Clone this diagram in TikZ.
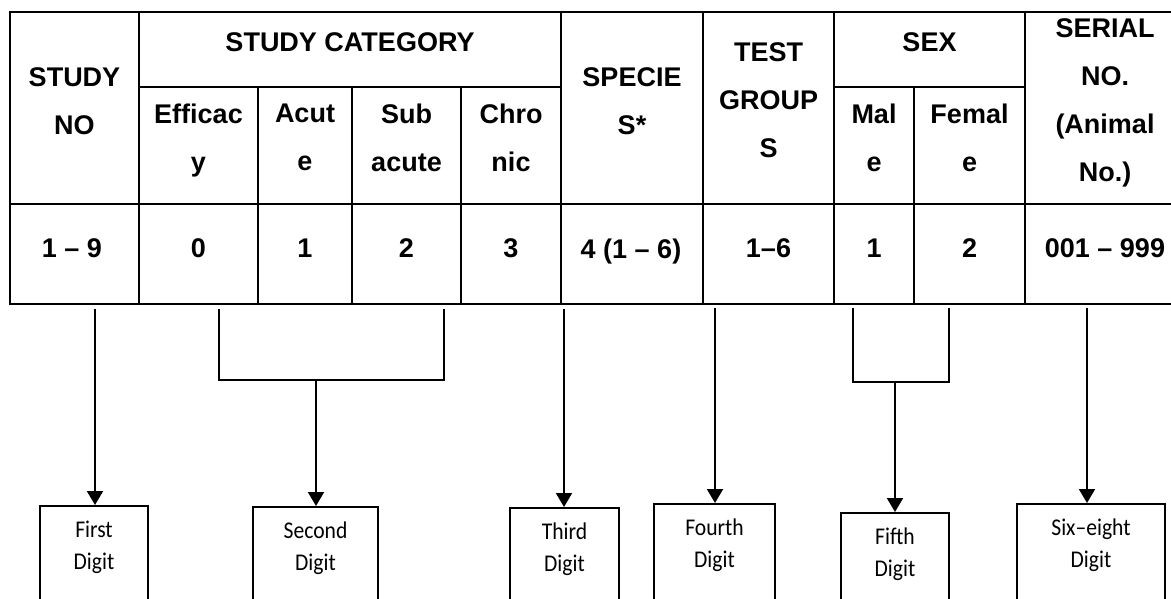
\documentclass[tikz,border=0pt]{standalone}
\usepackage{fontspec}
\setmainfont{Liberation Sans}
\newfontfamily\boxfont{Carlito}[FakeStretch=0.9]
\usetikzlibrary{arrows.meta}
\begin{document}
\begin{tikzpicture}[x=0.75pt,y=-0.75pt,
  hd/.style={font=\fontsize{20.25}{36}\selectfont\bfseries, align=center, inner sep=0pt, anchor=north},
  gridline/.style={line width=1.9pt, line cap=rect},
  conn/.style={line width=1.5pt},
  arr/.style={conn, -{Triangle[width=12pt,length=10.5pt]}},
  digitbox/.style={draw, line width=1.4pt, anchor=north, inner sep=0pt, minimum height=97.5pt},
  digittext/.style={font=\boxfont\fontsize{18}{24}\selectfont, align=center, inner sep=0pt, anchor=north}
]
\useasboundingbox (0,0) rectangle (1171,599);
\fill[white] (0,0) rectangle (1171,599);

% ---------- table grid ----------
\draw[gridline] (10,12) -- (1190,12);
\draw[gridline] (10,204) -- (1190,204);
\draw[gridline] (10,304) -- (1190,304);
\draw[gridline] (10,12) -- (10,304);
\draw[gridline] (139,87) -- (561,87);
\draw[gridline] (834,87) -- (1025,87);
\foreach \x in {139,561,703,834,1025} \draw[gridline] (\x,12) -- (\x,304);
\foreach \x in {258,352,461,914} \draw[gridline] (\x,87) -- (\x,304);

% ---------- header texts ----------
\node[hd] (hstudy) at (74.5,67.3) {STUDY\\NO};
\node[hd] (hcat) at (350,32.3) {STUDY CATEGORY};
\node[hd] (heff) at (198.5,103.3) {Efficac\\y};
\node[hd] (hacu) at (305,103.3) {Acut\\e};
\node[hd] (hsub) at (406.5,103.3) {Sub\\acute};
\node[hd] (hchr) at (511,103.3) {Chro\\nic};
\node[hd] (hspe) at (632,67.3) {SPECIE\\S*};
\node[hd] (htst) at (768.5,42.3) {TEST\\GROUP\\S};
\node[hd] (hsex) at (929.5,32.3) {SEX};
\node[hd] (hmal) at (874,103.3) {Mal\\e};
\node[hd] (hfem) at (969.5,103.3) {Femal\\e};
\node[hd] (hser) at (1105,18.3) {SERIAL\\NO.\\(Animal\\No.)};

% ---------- values ----------
\node[hd] (v1) at (72,238.3) {1 – 9};
\node[hd] (v2) at (198.5,238.3) {0};
\node[hd] (v3) at (305,238.3) {1};
\node[hd] (v4) at (406.5,238.3) {2};
\node[hd] (v5) at (511,238.3) {3};
\node[hd] (v6) at (631,238.3) {4 (1 – 6)};
\node[hd] (v7) at (768.5,238.3) {1–6};
\node[hd] (v8) at (874,238.3) {1};
\node[hd] (v9) at (969.5,238.3) {2};
\node[hd] (v10) at (1105,238.3) {001 – 999};

% ---------- digit boxes ----------
\node[digitbox, minimum width=81pt] (b1) at (94,505) {};
\node[digitbox, minimum width=93.75pt] (b2) at (315.5,506) {};
\node[digitbox, minimum width=81.75pt] (b3) at (564.5,507) {};
\node[digitbox, minimum width=90.75pt] (b4) at (714.5,503) {};
\node[digitbox, minimum width=81pt] (b5) at (895,512) {};
\node[digitbox, minimum width=111pt] (b6) at (1091,503) {};

\node[digittext] (t1) at (94,521) {First\\Digit};
\node[digittext] (t2) at (315.5,522) {Second\\Digit};
\node[digittext] (t3) at (564.5,523) {Third\\Digit};
\node[digittext] (t4) at (714.5,519) {Fourth\\Digit};
\node[digittext] (t5) at (895,528) {Fifth\\Digit};
\node[digittext] (t6) at (1091,519) {Six–eight\\Digit};

% ---------- connectors ----------
\coordinate (s1) at (95,309);
\coordinate (l2) at (219,309);
\coordinate (r2) at (444,309);
\coordinate (j2) at (316,380);
\coordinate (s3) at (564,309);
\coordinate (s4) at (715,308);
\coordinate (l5) at (853,308);
\coordinate (r5) at (949,308);
\coordinate (j5) at (895,382);
\coordinate (s6) at (1087,308);

\draw[arr] (s1) -- (s1 |- b1.north);
\draw[conn] (l2) -- (l2 |- j2) -- (r2 |- j2) -- (r2);
\draw[arr] (j2) -- (j2 |- b2.north);
\draw[arr] (s3) -- (s3 |- b3.north);
\draw[arr] (s4) -- (s4 |- b4.north);
\draw[conn] (l5) -- (l5 |- j5) -- (r5 |- j5) -- (r5);
\draw[arr] (j5) -- (j5 |- b5.north);
\draw[arr] (s6) -- (s6 |- b6.north);
\end{tikzpicture}
\end{document}
